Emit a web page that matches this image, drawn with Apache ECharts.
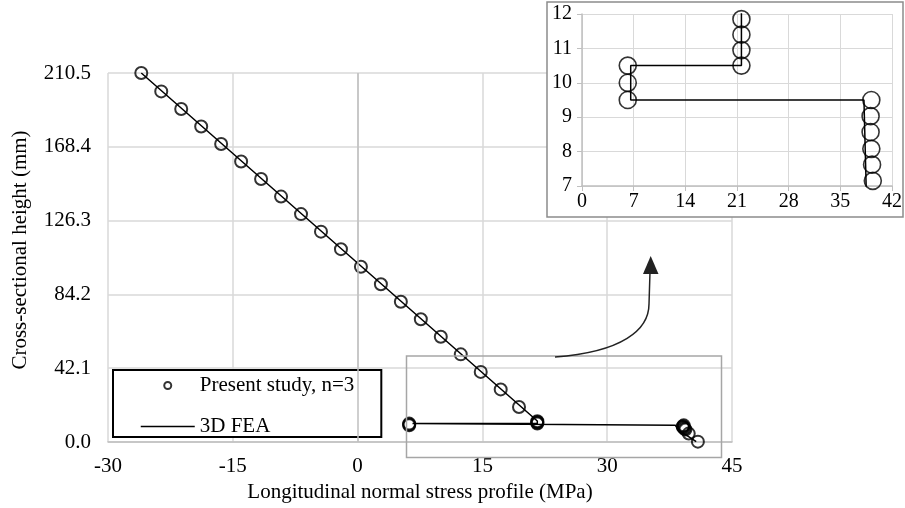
<!DOCTYPE html>
<html>
<head>
<meta charset="utf-8">
<script src="https://cdn.jsdelivr.net/npm/echarts@6/dist/echarts.min.js"></script>
<style>
  html, body { margin: 0; padding: 0; background: #ffffff; }
  #chart { width: 905px; height: 508px; }
</style>
</head>
<body>
<div id="chart"></div>
<script>
// Present study (n=3): longitudinal normal stress (MPa) against height (mm)
const studyStress = [-26.0, -23.6, -21.2, -18.8, -16.4, -14.0, -11.6, -9.2, -6.8, -4.4,
                     -2.0, 0.4, 2.8, 5.2, 7.6, 10.0, 12.4, 14.8, 17.2, 19.4,
                     21.6, 21.6, 21.6, 21.6, 6.2, 6.2, 6.2,
                     39.2, 39.1, 39.1, 39.2, 39.3, 39.4, 39.8, 40.9];
const studyHeight = [210.5, 200, 190, 180, 170, 160, 150, 140, 130, 120,
                     110, 100, 90, 80, 70, 60, 50, 40, 30, 20,
                     11.85, 11.4, 10.95, 10.5, 10.5, 10.0, 9.5,
                     9.5, 9.03, 8.57, 8.08, 7.62, 7.15, 4.8, 0.2];

// 3D FEA stress profile
const feaStress = [-26.0, 21.6, 21.6, 6.6, 6.6, 38.2, 38.5, 40.7];
const feaHeight = [210.5, 12.0, 10.5, 10.5, 9.5, 9.5, 7.0, 0.2];

// Axis tick settings
const mainX = { min: -30, max: 45, step: 15 };
const mainY = { min: 0, max: 210.5, step: 42.1 };
const zoomX = { min: 0, max: 42, step: 7 };
const zoomY = { min: 7, max: 12, step: 1 };

const FONT = 'Liberation Serif';
const GRID_COLOR = '#d9d9d9';
const AXIS_COLOR = '#bfbfbf';
const pair = (xs, ys) => xs.map((x, i) => [x, ys[i]]);

const chart = echarts.init(document.getElementById('chart'), null, { renderer: 'canvas' });

const labelStyle = (size) => ({ color: '#000', fontFamily: FONT, fontSize: size });

chart.setOption({
  animation: false,
  backgroundColor: '#ffffff',
  grid: [
    { left: 108, top: 73, width: 624, height: 369 },
    { left: 582, top: 14, width: 314, height: 172 }
  ],
  xAxis: [
    {
      gridIndex: 0, type: 'value', min: mainX.min, max: mainX.max, interval: mainX.step,
      axisLine: { show: true, onZero: false, lineStyle: { color: AXIS_COLOR, width: 1.5 } },
      axisTick: { show: false },
      axisLabel: Object.assign({ margin: 14 }, labelStyle(21)),
      splitLine: { show: true, lineStyle: { color: GRID_COLOR, width: 1.5 } },
      name: 'Longitudinal normal stress profile (MPa)',
      nameLocation: 'middle', nameGap: 35,
      nameTextStyle: labelStyle(21)
    },
    {
      gridIndex: 1, type: 'value', min: zoomX.min, max: zoomX.max, interval: zoomX.step, z: 20,
      axisLine: { show: true, onZero: false, lineStyle: { color: AXIS_COLOR, width: 1.5 } },
      axisTick: { show: true, length: 5, lineStyle: { color: AXIS_COLOR } },
      axisLabel: Object.assign({ margin: 6 }, labelStyle(20)),
      splitLine: { show: true, lineStyle: { color: GRID_COLOR, width: 1 } }
    }
  ],
  yAxis: [
    {
      gridIndex: 0, type: 'value', min: mainY.min, max: mainY.max, interval: mainY.step,
      axisLine: { show: false },
      axisTick: { show: false },
      axisLabel: Object.assign({ margin: 17, formatter: (v) => v.toFixed(1) }, labelStyle(21)),
      splitLine: { show: true, lineStyle: { color: GRID_COLOR, width: 1.5 } }
    },
    {
      gridIndex: 1, type: 'value', min: zoomY.min, max: zoomY.max, interval: zoomY.step, z: 20,
      axisLine: { show: true, onZero: false, lineStyle: { color: AXIS_COLOR, width: 1.5 } },
      axisTick: { show: true, length: 5, lineStyle: { color: AXIS_COLOR } },
      axisLabel: Object.assign({ margin: 10 }, labelStyle(20)),
      splitLine: { show: true, lineStyle: { color: GRID_COLOR, width: 1 } }
    }
  ],
  legend: {
    left: 113, top: 370, orient: 'vertical',
    padding: [5, 27, 0, 27], itemGap: 20,
    itemWidth: 54, itemHeight: 7,
    borderColor: '#000', borderWidth: 2, backgroundColor: '#fff',
    selectedMode: false,
    textStyle: Object.assign({ lineHeight: 21 }, labelStyle(21)),
    data: [
      { name: 'Present study, n=3', icon: 'circle',
        itemStyle: { color: '#fff', borderColor: '#000', borderWidth: 2 } },
      { name: '3D FEA', itemStyle: { opacity: 0 },
        lineStyle: { color: '#000', width: 1.5, opacity: 1 } }
    ]
  },
  series: [
    {
      name: '3D FEA', type: 'line', xAxisIndex: 0, yAxisIndex: 0,
      data: pair(feaStress, feaHeight),
      symbol: 'none', itemStyle: { color: '#000' },
      lineStyle: { color: '#000', width: 1.5 }, z: 3,
      markLine: {
        silent: true, symbol: 'none', label: { show: false },
        lineStyle: { color: AXIS_COLOR, width: 1.5, type: 'solid' },
        data: [{ xAxis: 0 }]
      }
    },
    {
      name: 'Present study, n=3', type: 'scatter', xAxisIndex: 0, yAxisIndex: 0,
      data: pair(studyStress, studyHeight),
      symbol: 'circle', symbolSize: 12, z: 4,
      itemStyle: { color: 'rgba(0,0,0,0)', borderColor: '#000', borderWidth: 2 }
    },
    {
      name: '3D FEA', type: 'line', xAxisIndex: 1, yAxisIndex: 1,
      data: pair(feaStress, feaHeight), clip: true,
      symbol: 'none', itemStyle: { color: '#000' },
      lineStyle: { color: '#000', width: 1.5 }, z: 30
    },
    {
      name: 'Present study, n=3', type: 'scatter', xAxisIndex: 1, yAxisIndex: 1,
      data: pair(studyStress, studyHeight), clip: true,
      symbol: 'circle', symbolSize: 17, z: 31,
      itemStyle: { color: 'rgba(0,0,0,0)', borderColor: '#000', borderWidth: 1.6 }
    }
  ],
  graphic: [
    {
      type: 'text', x: 20, y: 250, rotation: Math.PI / 2, z: 5,
      style: { text: 'Cross-sectional height (mm)', font: '21px "Liberation Serif"',
               fill: '#000', textAlign: 'center', textVerticalAlign: 'middle' }
    },
    {
      // zoom window around the bottom of the section
      type: 'rect', z: 5,
      shape: { x: 406.5, y: 356, width: 315, height: 101.5 },
      style: { fill: 'none', stroke: '#a6a6a6', lineWidth: 1.5 }
    },
    {
      type: 'bezierCurve', z: 5,
      shape: { x1: 555, y1: 357, cpx1: 622, cpy1: 352, cpx2: 649, cpy2: 330, x2: 649, y2: 304 },
      style: { fill: 'none', stroke: '#222', lineWidth: 1.5 }
    },
    {
      type: 'line', z: 5,
      shape: { x1: 649, y1: 304, x2: 650, y2: 272 },
      style: { stroke: '#222', lineWidth: 1.5 }
    },
    {
      type: 'polygon', z: 5,
      shape: { points: [[650.7, 256], [643, 274], [658.5, 274]] },
      style: { fill: '#222' }
    },
    {
      // inset panel background and frame
      type: 'rect', z: 10,
      shape: { x: 547, y: 2, width: 356, height: 215 },
      style: { fill: '#fff', stroke: '#8c8c8c', lineWidth: 1.5 }
    }
  ]
});
</script>
</body>
</html>
